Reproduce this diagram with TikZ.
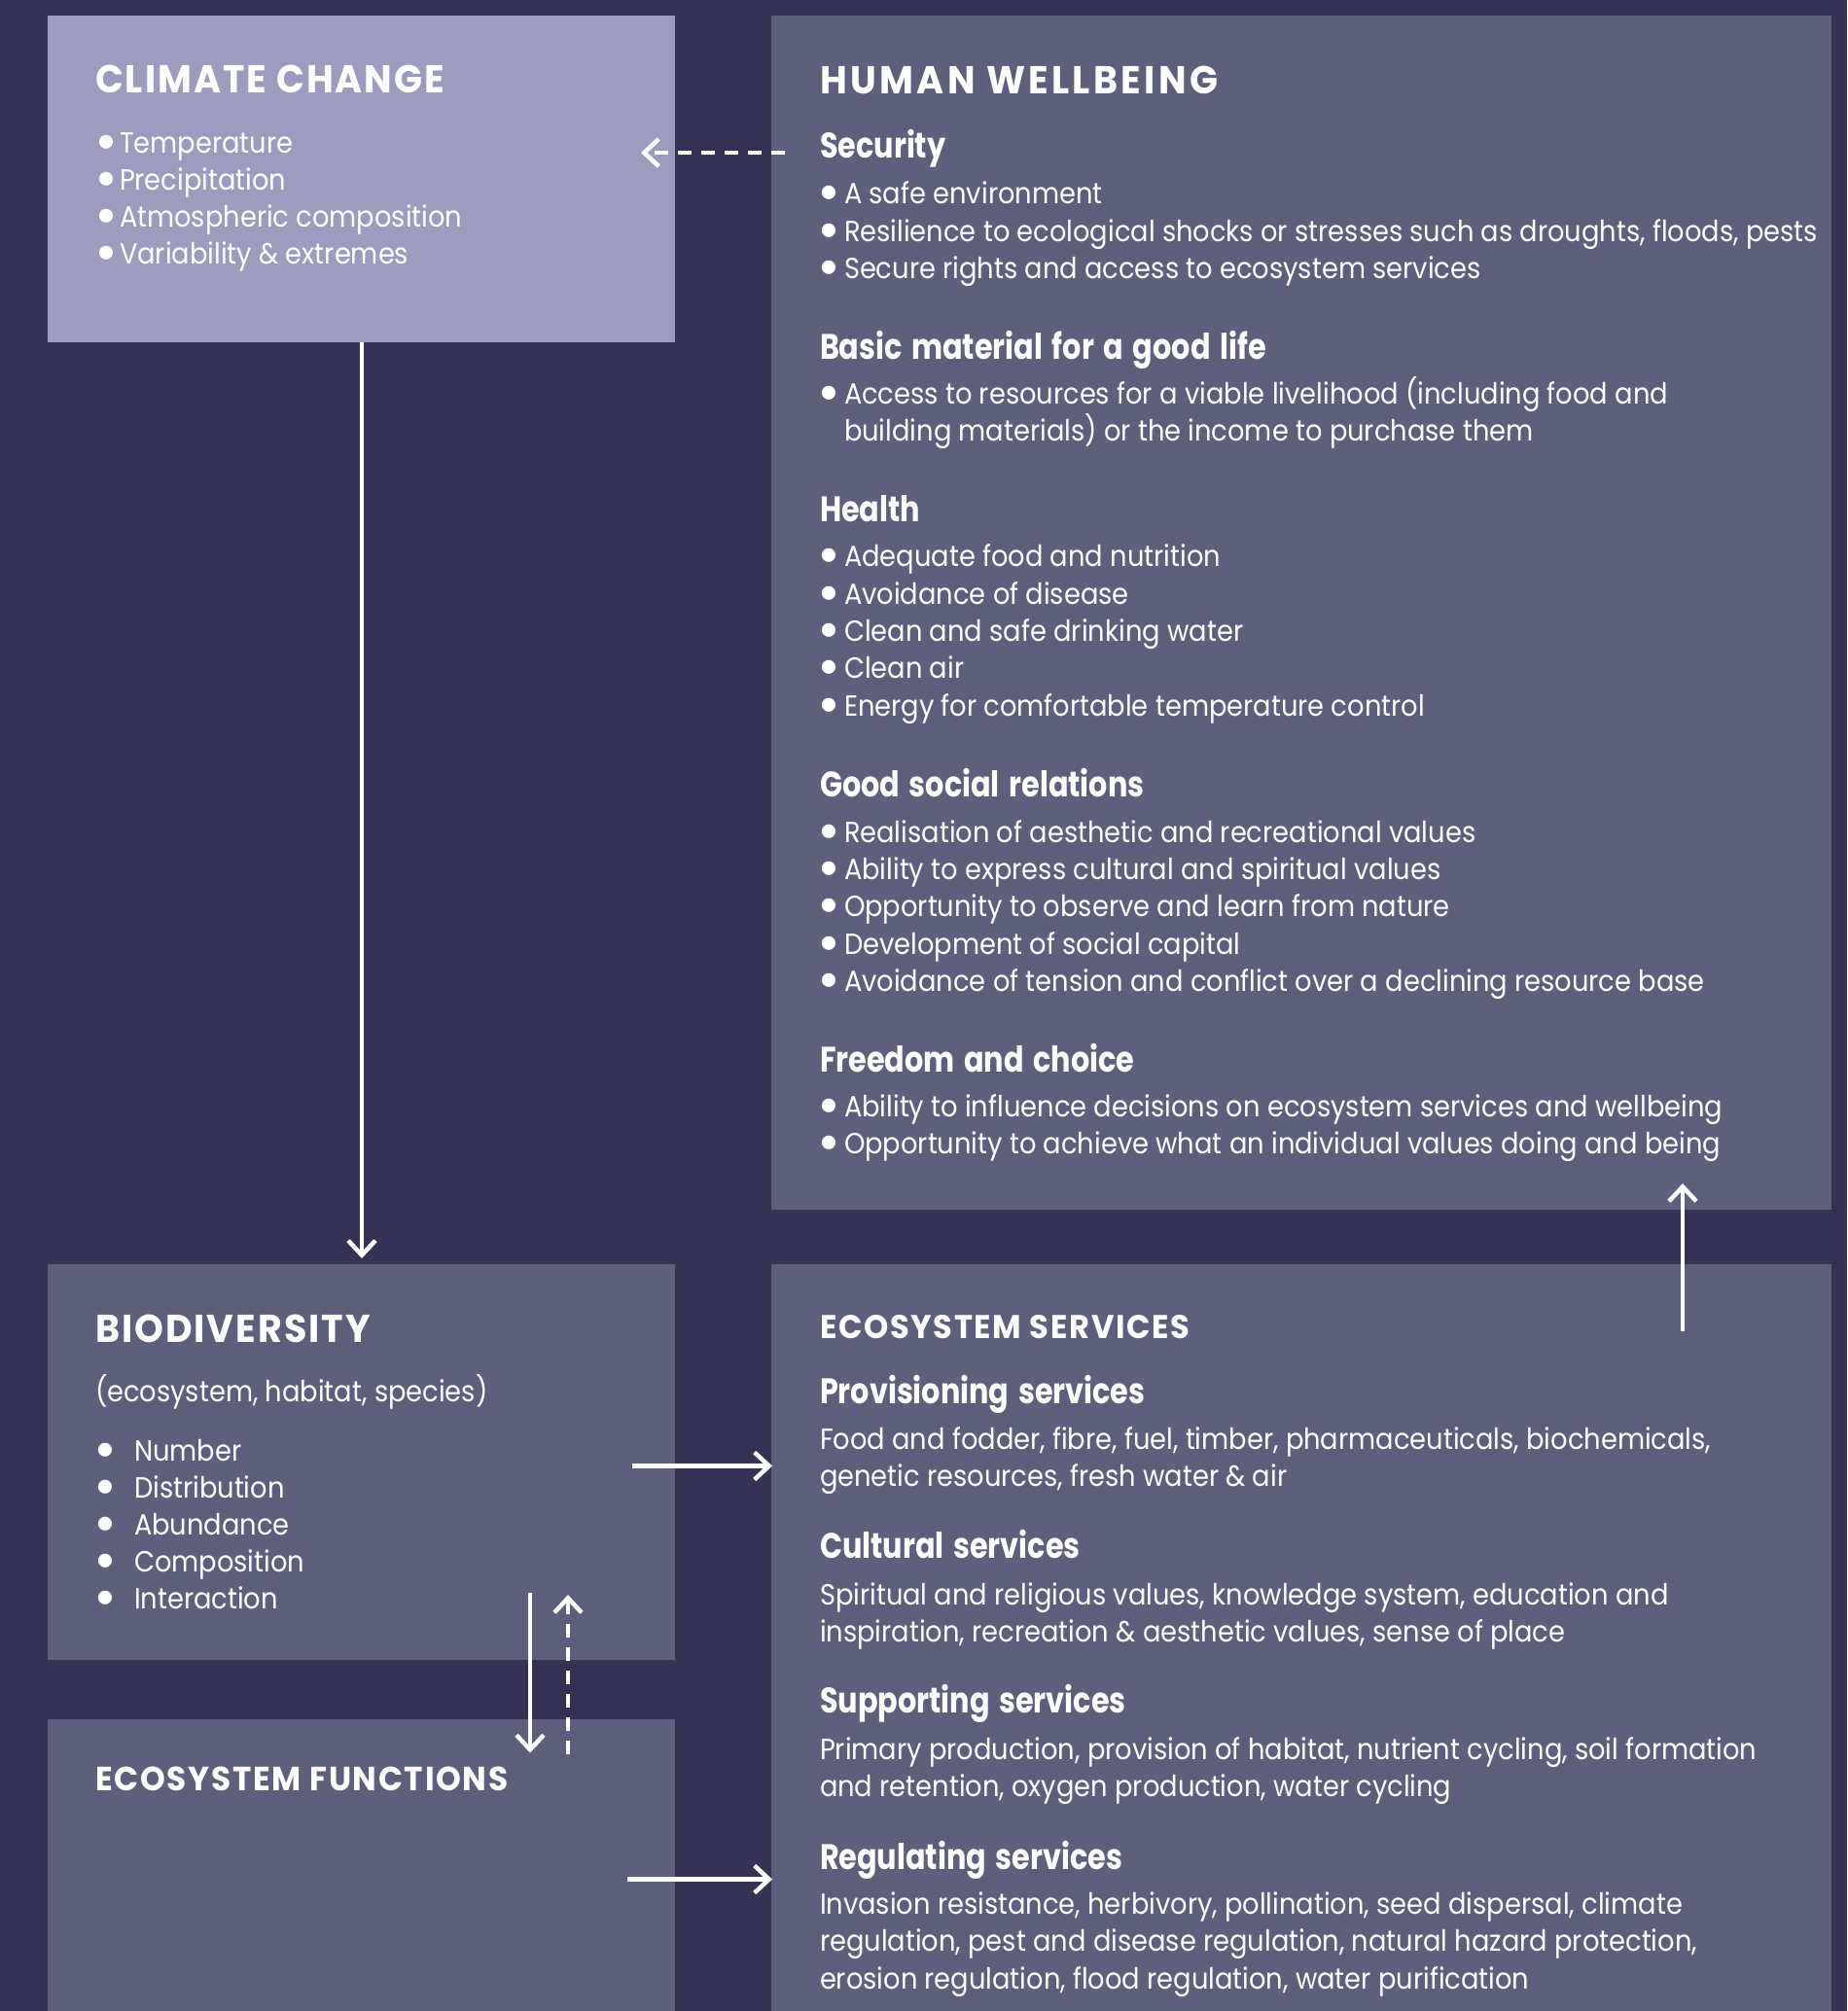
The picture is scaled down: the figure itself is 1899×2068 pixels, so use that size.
\documentclass[tikz,border=0pt]{standalone}
\usepackage{fontspec}
\setmainfont{Poppins}
\newfontfamily\bodyf{Poppins}[FakeStretch=0.91]
\newfontfamily\headf{Poppins}[FakeStretch=0.83,WordSpace=1.5]
\newfontfamily\titlef{Poppins}[FakeStretch=0.95,LetterSpace=5]
\newfontfamily\titlefw{Poppins}[FakeStretch=0.95,LetterSpace=8.5]
\newfontfamily\bulf{Carlito}
\usetikzlibrary{arrows.meta}
\definecolor{bgc}{HTML}{363256}
\definecolor{lightbox}{HTML}{9D9CBE}
\definecolor{midbox}{HTML}{5E5E7D}
\tikzset{
  panel/.style={anchor=north west, inner sep=0pt, outer sep=0pt, draw=none},
  txt/.style={anchor=base west, inner sep=0pt, outer sep=0pt, text=white},
  body/.style={txt, font=\bodyf\fontsize{30}{38.3}\selectfont},
  head/.style={txt, font=\headf\bfseries\fontsize{36.5}{40}\selectfont},
  title/.style={txt, font=\titlef\bfseries\fontsize{40}{44}\selectfont},
  stitle/.style={txt, font=\titlef\bfseries\fontsize{34.5}{40}\selectfont},
  arr/.style={draw=white, line width=4.5pt, -{Straight Barb[length=15pt,width=28pt]}},
  darr/.style={arr, dash pattern=on 14pt off 10pt},
}
\newcommand\bul{{\bulf\fontsize{40}{40}\selectfont\textbullet}}
\newcommand\bline[5]{\node[body] (#1) at (#2,#3) {\makebox[#4pt][l]{\hspace{-3pt}\bul}#5};}
\newcommand\pline[4]{\node[body] (#1) at (#2,#3) {#4};}
\begin{document}
\begin{tikzpicture}[x=1pt,y=-1pt]
\fill[bgc] (0,0) rectangle (1899,2068);
\useasboundingbox (0,0) rectangle (1899,2068);
% panels
\node[panel, fill=lightbox, minimum width=645pt, minimum height=336pt] (climate) at (48.8,15.8) {};
\node[panel, fill=midbox, minimum width=1090.4pt, minimum height=1228pt] (human) at (792.6,15.8) {};
\node[panel, fill=midbox, minimum width=645pt, minimum height=407pt] (bio) at (48.8,1300) {};
\node[panel, fill=midbox, minimum width=645pt, minimum height=300pt] (func) at (48.8,1768) {};
\node[panel, fill=midbox, minimum width=1090.4pt, minimum height=768pt] (serv) at (792.6,1300) {};
% climate change
\node[title] (cct) at (98,96) {CLIMATE CHANGE};
\bline{cc1}{102}{157.5}{21}{Temperature}
\bline{cc2}{102}{195.5}{21}{Precipitation}
\bline{cc3}{102}{233.5}{21}{Atmospheric composition}
\bline{cc4}{102}{271.5}{21}{Variability \& extremes}
% human wellbeing
\node[title, font=\titlefw\bfseries\fontsize{40}{44}\selectfont] (hwt) at (843,96.6) {HUMAN WELLBEING};
\node[head] (hsec) at (843,163) {Security};
\bline{hs1}{845}{210}{23}{A safe environment}
\bline{hs2}{845}{248.3}{23}{Resilience to ecological shocks or stresses such as droughts, floods, pests}
\bline{hs3}{845}{286.6}{23}{Secure rights and access to ecosystem services}
\node[head] (hbas) at (843,369) {Basic material for a good life};
\bline{hb1}{845}{415}{23}{Access to resources for a viable livelihood (including food and}
\pline{hb2}{868}{453.3}{building materials) or the income to purchase them}
\node[head] (hhea) at (843,536.7) {Health};
\bline{hh1}{845}{582.7}{23}{Adequate food and nutrition}
\bline{hh2}{845}{621}{23}{Avoidance of disease}
\bline{hh3}{845}{659.3}{23}{Clean and safe drinking water}
\bline{hh4}{845}{697.6}{23}{Clean air}
\bline{hh5}{845}{736}{23}{Energy for comfortable temperature control}
\node[head] (hsoc) at (843,819) {Good social relations};
\bline{hr1}{845}{866}{23}{Realisation of aesthetic and recreational values}
\bline{hr2}{845}{904.3}{23}{Ability to express cultural and spiritual values}
\bline{hr3}{845}{942.6}{23}{Opportunity to observe and learn from nature}
\bline{hr4}{845}{981}{23}{Development of social capital}
\bline{hr5}{845}{1019.3}{23}{Avoidance of tension and conflict over a declining resource base}
\node[head] (hfre) at (843,1102) {Freedom and choice};
\bline{hf1}{845}{1148}{23}{Ability to influence decisions on ecosystem services and wellbeing}
\bline{hf2}{845}{1186.5}{23}{Opportunity to achieve what an individual values doing and being}
% biodiversity
\node[title] (bdt) at (98,1380) {BIODIVERSITY};
\pline{bdp}{98}{1441}{(ecosystem, habitat, species)}
\bline{bd1}{101}{1502.5}{37}{Number}
\bline{bd2}{101}{1540.5}{37}{Distribution}
\bline{bd3}{101}{1578.5}{37}{Abundance}
\bline{bd4}{101}{1616.5}{37}{Composition}
\bline{bd5}{101}{1654.5}{37}{Interaction}
% ecosystem functions
\node[stitle] (eft) at (98,1841) {ECOSYSTEM FUNCTIONS};
% ecosystem services
\node[stitle, font=\titlef\bfseries\fontsize{33.8}{40}\selectfont] (est) at (843,1376) {ECOSYSTEM SERVICES};
\node[head] (epro) at (843,1443) {Provisioning services};
\pline{ep1}{843}{1490}{Food and fodder, fibre, fuel, timber, pharmaceuticals, biochemicals,}
\pline{ep2}{843}{1528.7}{genetic resources, fresh water \& air}
\node[head] (ecul) at (843,1602.6) {Cultural services};
\pline{ec1}{843}{1650}{Spiritual and religious values, knowledge system, education and}
\pline{ec2}{843}{1688.3}{inspiration, recreation \& aesthetic values, sense of place}
\node[head] (esup) at (843,1761.8) {Supporting services};
\pline{es1}{843}{1809}{Primary production, provision of habitat, nutrient cycling, soil formation}
\pline{es2}{843}{1847.3}{and retention, oxygen production, water cycling}
\node[head] (ereg) at (843,1922) {Regulating services};
\pline{er1}{843}{1968.5}{Invasion resistance, herbivory, pollination, seed dispersal, climate}
\pline{er2}{843}{2006.8}{regulation, pest and disease regulation, natural hazard protection,}
\pline{er3}{843}{2045.1}{erosion regulation, flood regulation, water purification}
% arrow end points
\coordinate (a1s) at (807,157);   \coordinate (a1e) at (659,157);
\coordinate (a2s) at (372,352);   \coordinate (a2e) at (372,1294);
\coordinate (a3s) at (1730,1369); \coordinate (a3e) at (1730,1217);
\coordinate (a4s) at (650,1507.5);\coordinate (a4e) at (794,1507.5);
\coordinate (a5s) at (645,1932.5);\coordinate (a5e) at (794,1932.5);
\coordinate (a6s) at (545,1637.5);\coordinate (a6e) at (545,1802.5);
\coordinate (a7s) at (584,1803.5);\coordinate (a7e) at (584,1640);
\draw[darr] (a1s) -- (a1e);
\draw[arr] (a2s) -- (a2e);
\draw[arr] (a3s) -- (a3e);
\draw[arr] (a4s) -- (a4e);
\draw[arr] (a5s) -- (a5e);
\draw[arr] (a6s) -- (a6e);
\draw[darr] (a7s) -- (a7e);
\end{tikzpicture}
\end{document}
